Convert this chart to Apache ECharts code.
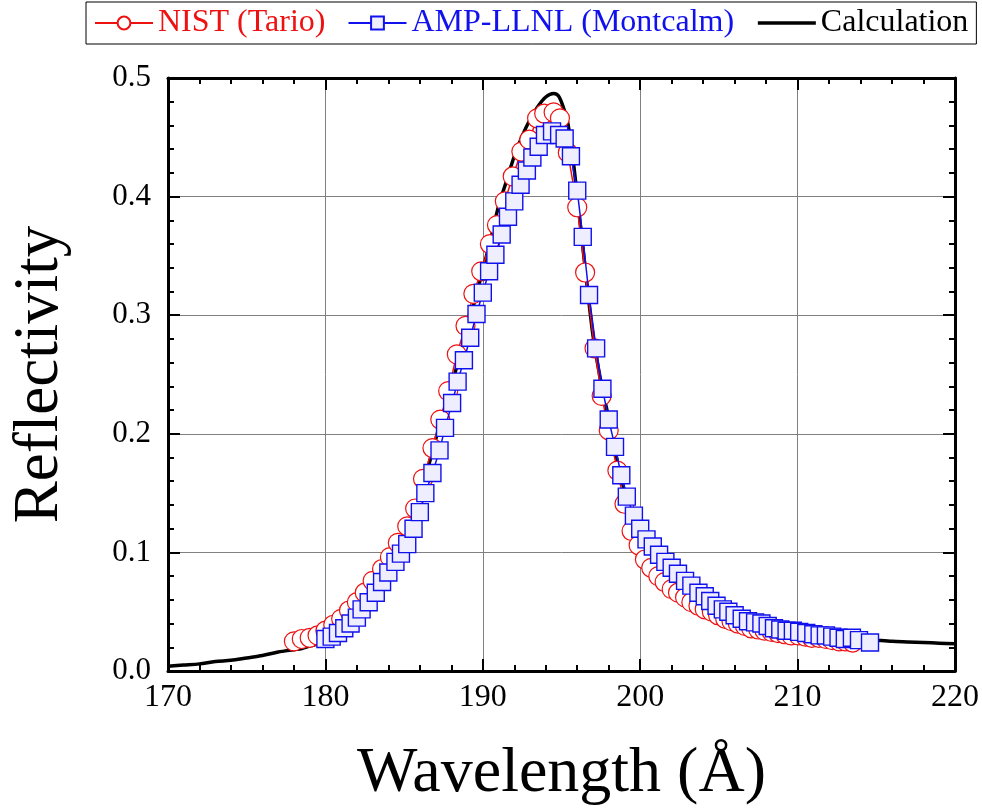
<!DOCTYPE html>
<html>
<head>
<meta charset="utf-8">
<script src="https://cdn.jsdelivr.net/npm/echarts@6/dist/echarts.min.js"></script>
<style>
  html, body { margin: 0; padding: 0; background: #fff; }
  #chart { width: 982px; height: 811px; }
</style>
</head>
<body>
<div id="chart"></div>
<script>
// NIST (Tario) measurements
const nistX = [178.0, 178.5, 179.0, 179.5, 180.0, 180.5, 181.0, 181.5, 182.0, 182.5,
  183.0, 183.6, 184.1, 184.6, 185.2, 185.7, 186.2, 186.8, 187.3, 187.8,
  188.35, 188.9, 189.4, 189.9, 190.45, 190.9, 191.4, 191.9, 192.45, 192.95,
  193.45, 193.9, 194.5, 194.9, 195.4, 196.0, 196.5, 197.1, 197.55, 198.0,
  198.55, 199.0, 199.45, 199.9, 200.3, 200.7, 201.15, 201.55, 202.0, 202.4,
  202.85, 203.25, 203.7, 204.1, 204.55, 204.95, 205.4, 205.8, 206.2, 206.65,
  207.05, 207.5, 207.9, 208.35, 208.75, 209.2, 209.6, 210.05, 210.5, 210.9,
  211.35, 211.8, 212.2, 212.65, 213.05, 213.5]
const nistY = [0.025, 0.027, 0.028, 0.030, 0.034, 0.039, 0.044, 0.051, 0.058, 0.066,
  0.076, 0.086, 0.096, 0.108, 0.122, 0.137, 0.162, 0.188, 0.212, 0.236,
  0.267, 0.291, 0.318, 0.337, 0.360, 0.376, 0.396, 0.417, 0.438, 0.448,
  0.466, 0.470, 0.471, 0.466, 0.437, 0.391, 0.336, 0.272, 0.232, 0.203,
  0.169, 0.141, 0.118, 0.106, 0.094, 0.087, 0.080, 0.075, 0.069, 0.066,
  0.062, 0.058, 0.055, 0.052, 0.050, 0.047, 0.044, 0.042, 0.040, 0.038,
  0.036, 0.035, 0.034, 0.033, 0.032, 0.031, 0.030, 0.030, 0.029, 0.028,
  0.028, 0.027, 0.026, 0.025, 0.025, 0.024]

// AMP-LLNL (Montcalm) measurements
const ampX = [180.0, 180.4, 180.8, 181.2, 181.6, 182.0, 182.3, 182.75, 183.2, 183.6,
  184.0, 184.45, 184.8, 185.2, 185.6, 186.0, 186.35, 186.8, 187.25, 187.6,
  188.05, 188.4, 188.8, 189.2, 189.6, 190.0, 190.4, 190.8, 191.2, 191.6,
  192.0, 192.4, 192.8, 193.15, 193.55, 193.95, 194.4, 194.85, 195.2, 195.6,
  196.0, 196.35, 196.75, 197.2, 197.6, 198.0, 198.4, 198.8, 199.15, 199.6,
  200.0, 200.4, 200.8, 201.2, 201.6, 202.0, 202.4, 202.85, 203.25, 203.7,
  204.1, 204.45, 204.85, 205.25, 205.6, 206.0, 206.45, 206.85, 207.3, 207.7,
  208.1, 208.5, 208.9, 209.3, 209.7, 210.1, 210.55, 211.0, 211.4, 211.8,
  212.2, 212.6, 213.0, 213.45, 213.9, 214.6]
const ampY = [0.027, 0.029, 0.032, 0.036, 0.040, 0.045, 0.052, 0.058, 0.066, 0.075,
  0.083, 0.092, 0.099, 0.107, 0.120, 0.134, 0.150, 0.167, 0.186, 0.205,
  0.226, 0.244, 0.262, 0.281, 0.301, 0.319, 0.337, 0.351, 0.368, 0.383,
  0.396, 0.410, 0.422, 0.433, 0.442, 0.452, 0.455, 0.452, 0.449, 0.434,
  0.405, 0.366, 0.317, 0.272, 0.238, 0.212, 0.189, 0.165, 0.147, 0.131,
  0.120, 0.111, 0.105, 0.098, 0.092, 0.087, 0.082, 0.076, 0.072, 0.066,
  0.063, 0.059, 0.055, 0.052, 0.050, 0.047, 0.044, 0.042, 0.041, 0.040,
  0.038, 0.036, 0.035, 0.034, 0.034, 0.033, 0.032, 0.031, 0.030, 0.030,
  0.029, 0.028, 0.027, 0.028, 0.026, 0.024]

// Calculation
const calcX = [170, 171, 172, 173, 174, 175, 176, 177, 178, 178.5,
  179, 179.5, 180, 180.5, 181, 181.5, 182, 182.5, 183, 183.5,
  184, 184.5, 185, 185.5, 186, 186.5, 187, 187.5, 188, 188.5,
  189, 189.5, 190, 190.5, 191, 191.5, 192, 192.5, 193, 193.5,
  194, 194.5, 194.8, 195.1, 195.4, 195.7, 196, 196.5, 197, 197.5,
  198, 198.5, 199, 199.5, 200, 200.5, 201, 201.5, 202, 203,
  204, 205, 206, 207, 208, 209, 210, 211, 212, 213,
  214, 215, 216, 217, 218, 219, 220]
const calcY = [0.004, 0.005, 0.006, 0.008, 0.009, 0.011, 0.013, 0.016, 0.018, 0.019,
  0.021, 0.023, 0.028, 0.033, 0.038, 0.044, 0.051, 0.059, 0.068, 0.078,
  0.088, 0.098, 0.111, 0.126, 0.142, 0.170, 0.195, 0.218, 0.240, 0.264,
  0.287, 0.313, 0.338, 0.364, 0.392, 0.413, 0.434, 0.451, 0.465, 0.476,
  0.484, 0.487, 0.485, 0.476, 0.462, 0.435, 0.400, 0.340, 0.283, 0.244,
  0.213, 0.180, 0.152, 0.129, 0.114, 0.103, 0.094, 0.086, 0.079, 0.068,
  0.060, 0.052, 0.047, 0.042, 0.039, 0.036, 0.033, 0.031, 0.030, 0.028,
  0.027, 0.026, 0.025, 0.0245, 0.024, 0.0235, 0.023]

const xTicks = [170, 180, 190, 200, 210, 220]
const yTicks = [0.0, 0.1, 0.2, 0.3, 0.4, 0.5]

const FONT = 'Liberation Serif'
const RED = '#ee1111'
const BLUE = '#1111ee'

const pairs = (xs, ys) => xs.map((x, i) => [x, ys[i]])

const frameAxis = (extra) => Object.assign({
  type: 'value',
  axisLine: { show: true, onZero: false, lineStyle: { color: '#000', width: 3 } },
  axisTick: { show: true, inside: true, length: 12, lineStyle: { color: '#000', width: 2 } },
  minorTick: { show: true, splitNumber: 5, length: 6, lineStyle: { color: '#000', width: 2 } },
  splitLine: { show: false }
}, extra)

const chart = echarts.init(document.getElementById('chart'))

const option = {
  animation: false,
  backgroundColor: '#fff',
  textStyle: { fontFamily: FONT },
  legend: {
    left: 86,
    top: 2,
    padding: [5, 8, 5, 8],
    itemGap: 22,
    itemWidth: 58,
    itemHeight: 16,
    borderColor: '#000',
    borderWidth: 1,
    borderRadius: 0,
    textStyle: { fontFamily: FONT, fontSize: 32 },
    data: [
      { name: 'NIST (Tario)', textStyle: { color: RED } },
      { name: 'AMP-LLNL (Montcalm)', textStyle: { color: BLUE } },
      {
        name: 'Calculation',
        textStyle: { color: '#000' },
        itemStyle: { opacity: 0 },
        lineStyle: { color: '#000', width: 3.5 }
      }
    ]
  },
  grid: { left: 168, right: 27, top: 78, bottom: 136 },
  xAxis: [
    frameAxis({
      min: xTicks[0], max: xTicks[xTicks.length - 1], interval: 10,
      position: 'bottom',
      name: 'Wavelength (Å)',
      nameLocation: 'middle',
      nameGap: 71,
      nameTextStyle: { fontFamily: FONT, fontSize: 64, color: '#000' },
      axisLabel: { show: true, margin: 11, fontFamily: FONT, fontSize: 32, color: '#000' },
      splitLine: { show: true, lineStyle: { color: '#808080', width: 1 } }
    }),
    frameAxis({
      min: xTicks[0], max: xTicks[xTicks.length - 1], interval: 10,
      position: 'top',
      axisLabel: { show: false }
    })
  ],
  yAxis: [
    frameAxis({
      min: yTicks[0], max: yTicks[yTicks.length - 1], interval: 0.1,
      position: 'left',
      name: 'Reflectivity',
      nameLocation: 'middle',
      nameGap: 96,
      nameTextStyle: { fontFamily: FONT, fontSize: 63, color: '#000' },
      axisLabel: {
        show: true, margin: 17, fontFamily: FONT, fontSize: 31, color: '#000',
        formatter: v => v.toFixed(1)
      },
      splitLine: { show: true, lineStyle: { color: '#808080', width: 1 } }
    }),
    frameAxis({
      min: yTicks[0], max: yTicks[yTicks.length - 1], interval: 0.1,
      position: 'right',
      axisLabel: { show: false }
    })
  ],
  series: [
    {
      name: 'Calculation',
      type: 'line',
      data: pairs(calcX, calcY),
      showSymbol: false,
      symbol: 'none',
      smooth: 0.3,
      lineStyle: { color: '#000', width: 3.5 },
      itemStyle: { color: '#000' },
      z: 2
    },
    {
      name: 'NIST (Tario)',
      type: 'line',
      data: pairs(nistX, nistY),
      symbol: 'circle',
      symbolSize: 19,
      lineStyle: { color: RED, width: 1.5 },
      itemStyle: { color: '#fff', borderColor: RED, borderWidth: 1.2 },
      z: 3
    },
    {
      name: 'AMP-LLNL (Montcalm)',
      type: 'line',
      data: pairs(ampX, ampY),
      symbol: 'rect',
      symbolSize: 17,
      lineStyle: { color: BLUE, width: 1.5 },
      itemStyle: { color: '#eeeeff', borderColor: BLUE, borderWidth: 1.4 },
      z: 4
    }
  ]
}

chart.setOption(option)
</script>
</body>
</html>
